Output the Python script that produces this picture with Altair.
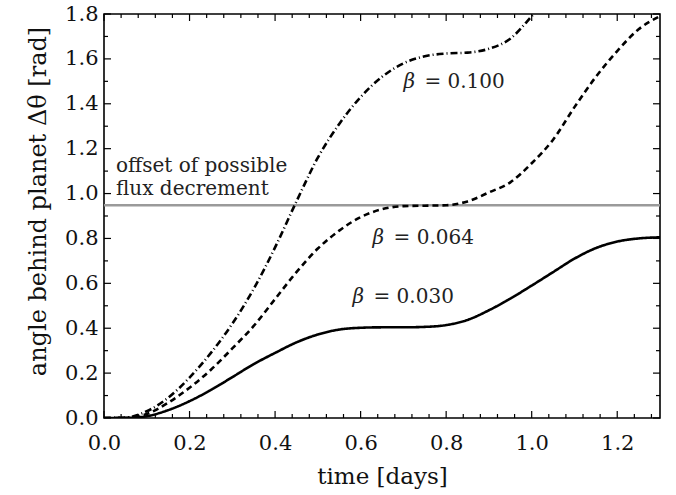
import altair as alt
import pandas as pd

# ---------------- data ----------------
time_days = [0.00, 0.05, 0.10, 0.15, 0.20, 0.25, 0.30, 0.35, 0.40, 0.45,
             0.50, 0.55, 0.60, 0.65, 0.70, 0.75, 0.80, 0.85, 0.90, 0.95,
             1.00, 1.05, 1.10, 1.15, 1.20, 1.25, 1.30]
angle_b030 = [0.000, 0.000, 0.008, 0.035, 0.075, 0.125, 0.182, 0.240, 0.290, 0.337,
              0.372, 0.394, 0.402, 0.404, 0.404, 0.406, 0.414, 0.437, 0.480, 0.532,
              0.590, 0.650, 0.710, 0.757, 0.786, 0.800, 0.805]
angle_b064 = [0.000, 0.001, 0.018, 0.068, 0.135, 0.215, 0.310, 0.410, 0.530, 0.650,
              0.755, 0.835, 0.895, 0.930, 0.944, 0.946, 0.948, 0.965, 1.005, 1.050,
              1.135, 1.240, 1.385, 1.520, 1.635, 1.732, 1.790]
time_b100 = [0.00, 0.05, 0.10, 0.15, 0.20, 0.25, 0.30, 0.35, 0.40, 0.45,
             0.50, 0.55, 0.60, 0.65, 0.70, 0.75, 0.80, 0.85, 0.90, 0.95,
             1.00, 1.05]
angle_b100 = [0.000, 0.002, 0.030, 0.090, 0.180, 0.290, 0.420, 0.575, 0.760, 0.965,
              1.160, 1.310, 1.430, 1.520, 1.580, 1.612, 1.624, 1.628, 1.645, 1.690,
              1.790, 1.900]

series_names = ["β = 0.030", "β = 0.064", "β = 0.100"]
beta_values = ["= 0.030", "= 0.064", "= 0.100"]
beta_label_t = [0.581, 0.628, 0.700]
beta_label_v = [0.539, 0.802, 1.497]

offset_value = [0.948]
offset_lines = ["offset of possible", "flux decrement"]
offset_text_t = [0.028, 0.028]
offset_text_v = [1.096, 0.994]

x_major = [0.0, 0.2, 0.4, 0.6, 0.8, 1.0, 1.2]
x_minor = [0.04, 0.08, 0.12, 0.16, 0.24, 0.28, 0.32, 0.36, 0.44, 0.48, 0.52, 0.56,
           0.64, 0.68, 0.72, 0.76, 0.84, 0.88, 0.92, 0.96, 1.04, 1.08, 1.12, 1.16,
           1.24, 1.28]
y_major = [0.0, 0.2, 0.4, 0.6, 0.8, 1.0, 1.2, 1.4, 1.6, 1.8]
y_minor = [0.1, 0.3, 0.5, 0.7, 0.9, 1.1, 1.3, 1.5, 1.7]

# ---------------- tables ----------------
rows = []
for t, v in zip(time_days, angle_b030):
    rows.append({"t": t, "v": v, "series": series_names[0]})
for t, v in zip(time_days, angle_b064):
    rows.append({"t": t, "v": v, "series": series_names[1]})
for t, v in zip(time_b100, angle_b100):
    rows.append({"t": t, "v": v, "series": series_names[2]})
curves = pd.DataFrame(rows)

beta_df = pd.DataFrame({"t": beta_label_t, "v": beta_label_v, "val": beta_values})
offset_df = pd.DataFrame({"v": offset_value})
offset_text_df = pd.DataFrame({"t": offset_text_t, "v": offset_text_v, "label": offset_lines})

FONT = "DejaVu Serif"
W, H = 556, 404
MAJ, MIN = 7, 4

x_scale = alt.Scale(domain=[0, 1.3], nice=False, zero=False)
y_scale = alt.Scale(domain=[0, 1.8], nice=False, zero=False)

x_axis = alt.Axis(values=x_major, format=".1f", ticks=False, domain=False, grid=False,
                  labelFlush=False, labelOverlap=False, labelFont=FONT, labelFontSize=21,
                  labelColor="#111", labelPadding=14, title="time [days]",
                  titleFont=FONT, titleFontSize=23, titleFontWeight="normal",
                  titleColor="#111", titlePadding=12)
y_axis = alt.Axis(values=y_major, format=".1f", ticks=False, domain=False, grid=False,
                  labelFlush=False, labelOverlap=False, labelFont=FONT, labelFontSize=21,
                  labelColor="#111", labelPadding=6, title="angle behind planet Δθ [rad]",
                  titleFont=FONT, titleFontSize=24, titleFontWeight="normal",
                  titleColor="#111", titlePadding=14, titleY=187)

def X(field="t"):
    return alt.X(f"{field}:Q", scale=x_scale, axis=x_axis)

def Y(field="v"):
    return alt.Y(f"{field}:Q", scale=y_scale, axis=y_axis)

offset_rule = alt.Chart(offset_df).mark_rule(color="#9a9a9a", strokeWidth=2.6).encode(y=Y())

lines = alt.Chart(curves).mark_line(color="black", strokeWidth=2.6, clip=True,
                                    interpolate="monotone").encode(
    x=X(), y=Y(),
    strokeDash=alt.StrokeDash("series:N",
                              scale=alt.Scale(domain=series_names,
                                              range=[[1, 0], [6, 4], [7, 3, 1, 3]]),
                              legend=None),
    detail="series:N",
)

offset_text = alt.Chart(offset_text_df).mark_text(
    align="left", baseline="alphabetic", font=FONT, fontSize=20, color="#222"
).encode(x=X(), y=Y(), text="label:N")

beta_sym = alt.Chart(beta_df).mark_text(
    align="left", baseline="middle", font=FONT, fontSize=20, fontStyle="italic", color="#222"
).encode(x=X(), y=Y(), text=alt.value("β"))

beta_val = alt.Chart(beta_df).mark_text(
    align="left", baseline="middle", font=FONT, fontSize=20, color="#222", dx=21
).encode(x=X(), y=Y(), text="val:N")

xmaj_df = pd.DataFrame({"t": x_major})
xmin_df = pd.DataFrame({"t": x_minor})
ymaj_df = pd.DataFrame({"v": y_major})
ymin_df = pd.DataFrame({"v": y_minor})

def xticks(df, size):
    bottom = alt.Chart(df).mark_rule(color="black", strokeWidth=1.2).encode(
        x=X(), y=alt.value(H), y2=alt.value(H - size))
    top = alt.Chart(df).mark_rule(color="black", strokeWidth=1.2).encode(
        x=X(), y=alt.value(0), y2=alt.value(size))
    return [bottom, top]

def yticks(df, size):
    left = alt.Chart(df).mark_rule(color="black", strokeWidth=1.2).encode(
        y=Y(), x=alt.value(0), x2=alt.value(size))
    right = alt.Chart(df).mark_rule(color="black", strokeWidth=1.2).encode(
        y=Y(), x=alt.value(W), x2=alt.value(W - size))
    return [left, right]

tick_layers = xticks(xmaj_df, MAJ) + xticks(xmin_df, MIN) + yticks(ymaj_df, MAJ) + yticks(ymin_df, MIN)

chart = alt.layer(
    offset_rule, lines, offset_text, beta_sym, beta_val, *tick_layers
).properties(
    width=W, height=H,
    autosize=alt.AutoSizeParams(type="none"),
    padding={"left": 104, "top": 14, "right": 16, "bottom": 77},
    background="white",
).configure(font=FONT).configure_view(stroke="black", strokeWidth=1.6)

chart.save("out.html", embed_options={"renderer": "svg", "actions": False})
